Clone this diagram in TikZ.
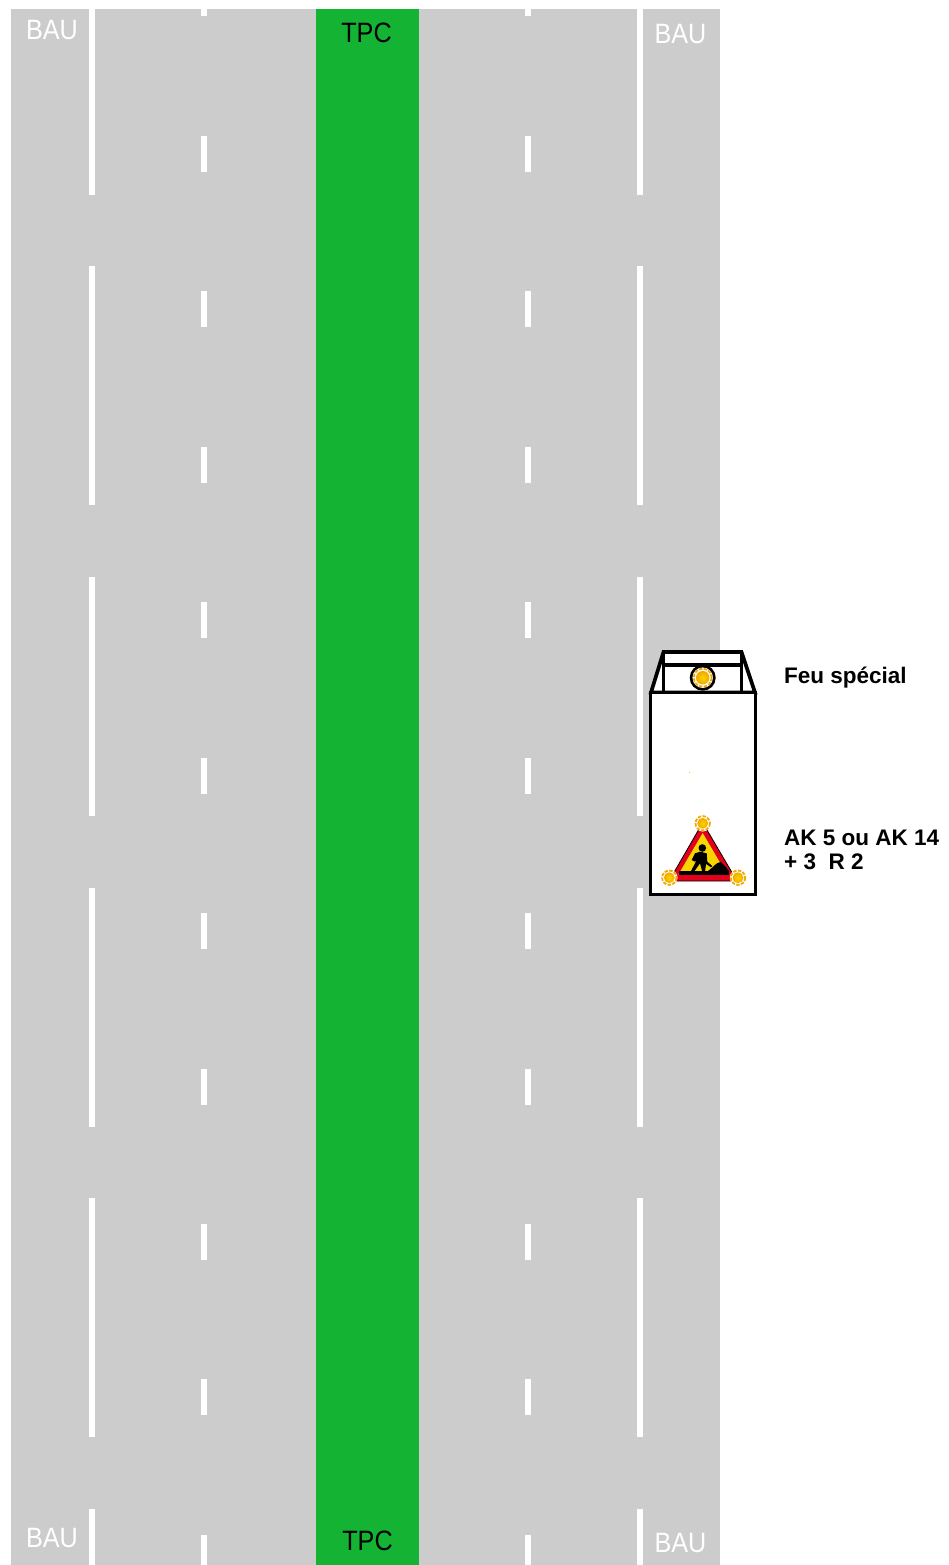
\documentclass[tikz,border=0pt]{standalone}
\usepackage{fontspec}
\setmainfont{Liberation Sans}
\definecolor{roadgrey}{HTML}{CCCCCC}
\definecolor{tpcgreen}{HTML}{14B334}
\definecolor{signred}{HTML}{E3001B}
\definecolor{signyellow}{HTML}{F7D600}
\definecolor{lamporange}{HTML}{F2A900}
\tikzset{
    roadlabel/.style={font=\fontsize{28}{28}\selectfont, inner sep=0pt, anchor=base, xscale=0.9, transform shape},
    panellabel/.style={font=\fontsize{22.5}{24}\selectfont\bfseries, inner sep=0pt, anchor=base west, align=left},
    paint/.style={fill=white, draw=none},
    truckline/.style={draw=black, line width=3.7pt, line join=miter},
    lamp/.pic={
        \fill[white] (0,0) circle (8.2);
        \draw[lamporange, line width=1.8pt, dash pattern=on 3.4pt off 1.4pt] (0,0) circle (7.2);
        \shade[inner color=signyellow, outer color=lamporange] (0,0) circle (5.4);
    }
}
\begin{document}
\begin{tikzpicture}[x=1pt, y=-1pt]
    \useasboundingbox (0,0) rectangle (949,1565);

    \fill[roadgrey] (11,9.5) rectangle (720,1565);
    \fill[tpcgreen] (315.5,9.5) rectangle (419,1565);

    \foreach \x in {88.5,637.3} {
        \fill[paint] (\x,9.5) rectangle +(6,185.5);
        \foreach \y in {266,577,888,1198} {
            \fill[paint] (\x,\y) rectangle +(6,239);
        }
        \fill[paint] (\x,1509) rectangle (\x+6,1565);
    }
    \foreach \x in {200.5,525} {
        \fill[paint] (\x,9.5) rectangle +(6,7);
        \foreach \y in {136,291,447,602,758,913,1069,1224,1379} {
            \fill[paint] (\x,\y) rectangle +(6,36);
        }
        \fill[paint] (\x,1535) rectangle (\x+6,1565);
    }

    \node (bauNW) [roadlabel, white] at (52,40) {BAU};
    \node (bauNE) [roadlabel, white] at (680.5,43.5) {BAU};
    \node (bauSW) [roadlabel, white] at (52,1547) {BAU};
    \node (bauSE) [roadlabel, white] at (680.5,1552) {BAU};
    \node (tpcN) [roadlabel] at (366.5,42.5) {TPC};
    \node (tpcS) [roadlabel] at (367.5,1550.5) {TPC};

    \filldraw[truckline, fill=white] (651,692.5) -- (663.5,652) -- (741.5,652) -- (755,692.5) -- cycle;
    \draw[truckline] (663.5,652) -- (663.5,692.5);
    \draw[truckline] (741.5,652) -- (741.5,692.5);
    \draw[truckline] (663.5,665) -- (741.5,665);
    \filldraw[truckline, fill=white] (650.5,692.5) rectangle (755.5,894.5);

    \fill[signyellow] (688.6,771.5) rectangle +(0.8,1.5);

    \fill[black] (702.7,677.7) circle (13);
    \pic at (702.7,677.7) [scale=1.25] {lamp};

    \filldraw[draw=black, line width=0.8pt, fill=signred] (702.7,822.7) -- (737,881) -- (669,881) -- cycle;
    \fill[signyellow] (702.7,833) -- (727,874.5) -- (678.4,874.5) -- cycle;
    \fill[black] (679,870.5) rectangle (729,874.5);
    \fill[black] (702.3,848) circle (3.8);
    \fill[black] (700,851.7) -- (706.7,853.3) -- (707.3,861.7) -- (712.3,866) -- (711,867.3) -- (706,864) -- (705,871.7)
        -- (702.3,871.7) -- (700,863.3) -- (694,871.7) -- (690.7,871.7) -- (696.7,860) -- (695,861.7) -- (691.7,860) -- (695,853.3) -- cycle;
    \fill[black] (708,871) .. controls (714,867) and (716,862) .. (721,862) .. controls (724,865) and (727,868) .. (729,871) -- cycle;
    \foreach \x/\y in {702.7/823.3,669.3/877.7,738/877.7} {
        \pic at (\x,\y) {lamp};
    }

    \node (feu) [panellabel] at (784,683) {Feu spécial};
    \node (panneau) [panellabel, anchor=north west] at (784,830) {AK 5 ou AK 14\\+ 3~ R 2};
\end{tikzpicture}
\end{document}
